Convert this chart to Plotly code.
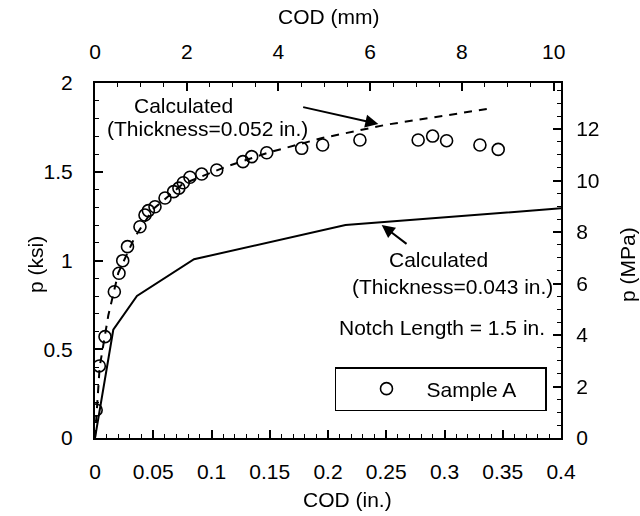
import plotly.graph_objects as go

# Sample A measurements: COD (in.) vs p (ksi)
sample_cod = [0.001, 0.0037, 0.0086, 0.0166, 0.0206, 0.0238, 0.0279, 0.0386, 0.0429,
              0.0458, 0.0515, 0.0601, 0.0675, 0.0720, 0.0758, 0.0815, 0.0916, 0.1045,
              0.127, 0.1345, 0.1474, 0.1774, 0.1954, 0.2274, 0.2774, 0.2898, 0.3018,
              0.3304, 0.3461]
sample_p = [0.158, 0.406, 0.571, 0.824, 0.928, 0.999, 1.078, 1.190, 1.256,
            1.281, 1.303, 1.352, 1.388, 1.408, 1.438, 1.469, 1.487, 1.510,
            1.557, 1.585, 1.607, 1.632, 1.651, 1.679, 1.679, 1.701, 1.675,
            1.651, 1.626]

# Calculated, thickness = 0.052 in. (dashed)
calc052_cod = [0.0, 0.004, 0.0114, 0.02, 0.034, 0.05, 0.075, 0.113, 0.15, 0.195, 0.25, 0.34]
calc052_p = [0.0, 0.40, 0.69, 0.93, 1.13, 1.29, 1.43, 1.53, 1.61, 1.69, 1.765, 1.857]

# Calculated, thickness = 0.043 in. (solid)
calc043_cod = [0.0, 0.0157, 0.036, 0.085, 0.215, 0.4]
calc043_p = [0.0, 0.61, 0.80, 1.007, 1.20, 1.294]

# Tick values
x_in_ticks = [0, 0.05, 0.1, 0.15, 0.2, 0.25, 0.3, 0.35, 0.4]
x_mm_ticks = [0, 2, 4, 6, 8, 10]
y_ksi_ticks = [0, 0.5, 1, 1.5, 2]
y_mpa_ticks = [0, 2, 4, 6, 8, 10, 12]

IN_TO_MM = 25.4
KSI_TO_MPA = 6.895
X_MAX_IN = 0.4
Y_MAX_KSI = 2.0

FONT = "Liberation Sans, Arial, sans-serif"
FS = 21

fig = go.Figure()

fig.add_trace(go.Scatter(x=calc052_cod, y=calc052_p, mode="lines",
                         line=dict(color="black", width=2, dash="8px,7px"),
                         showlegend=False, hoverinfo="skip"))
fig.add_trace(go.Scatter(x=calc043_cod, y=calc043_p, mode="lines",
                         line=dict(color="black", width=2),
                         showlegend=False, hoverinfo="skip"))
fig.add_trace(go.Scatter(x=sample_cod, y=sample_p, mode="markers",
                         name="Sample A\u00a0\u00a0\u00a0\u00a0",
                         marker=dict(symbol="circle-open", size=12, color="black",
                                     line=dict(width=1.6, color="black"))))
# secondary axes carrier (invisible)
fig.add_trace(go.Scatter(x=[0, X_MAX_IN * IN_TO_MM], y=[0, Y_MAX_KSI * KSI_TO_MPA],
                         xaxis="x2", yaxis="y2", mode="markers", opacity=0,
                         showlegend=False, hoverinfo="skip"))

def axis(**kw):
    d = dict(showgrid=False, zeroline=False, showline=True, linecolor="black",
             linewidth=2, ticks="inside", ticklen=8, tickwidth=1.6,
             tickcolor="black", layer="above traces",
             tickfont=dict(family=FONT, size=FS, color="black"))
    d.update(kw)
    return d

def minor(step):
    return dict(dtick=step, ticks="inside", ticklen=4, tickwidth=1.3, tickcolor="black")

fig.update_layout(
    width=640, height=516,
    margin=dict(l=95, r=79, t=83, b=78),
    paper_bgcolor="white", plot_bgcolor="white",
    font=dict(family=FONT, size=FS, color="black"),
    xaxis=axis(range=[0, X_MAX_IN], tickvals=x_in_ticks, minor=minor(0.01),
               ticklabelstandoff=14),
    xaxis2=axis(range=[0, X_MAX_IN * IN_TO_MM], tickvals=x_mm_ticks, overlaying="x",
                side="top", minor=minor(0.5), ticklabelstandoff=14),
    yaxis=axis(range=[0, Y_MAX_KSI], tickvals=y_ksi_ticks, minor=minor(0.1),
               ticklabelstandoff=16),
    yaxis2=axis(range=[0, Y_MAX_KSI * KSI_TO_MPA], tickvals=y_mpa_ticks, overlaying="y",
                side="right", minor=minor(0.5), ticklabelstandoff=9),
    legend=dict(x=0.515, y=0.2, xanchor="left", yanchor="top",
                bordercolor="black", borderwidth=1.5, bgcolor="white",
                font=dict(family=FONT, size=FS, color="black"),
                itemwidth=70, indentation=10),
)

def txt(text, x, y, xanchor="center", xref="x", yref="y", angle=0):
    fig.add_annotation(text=text, x=x, y=y, xref=xref, yref=yref, xanchor=xanchor,
                       yanchor="middle", showarrow=False, textangle=angle,
                       font=dict(family=FONT, size=FS, color="black"))

# axis titles
txt("COD (in.)", 0.541, -0.1746, xref="paper", yref="paper")
txt("COD (mm)", 0.5, 1.186, xref="paper", yref="paper")
txt("p (ksi)", -0.1288, 0.49, xref="paper", yref="paper", angle=-90)
txt("p (MPa)", 1.1416, 0.49, xref="paper", yref="paper", angle=-90)

# curve labels
txt("Calculated", 0.0318, 1.876, xanchor="left")
txt("(Thickness=0.052 in.)", 0.0086, 1.746, xanchor="left")
txt("Calculated", 0.2506, 1.003, xanchor="left")
txt("(Thickness=0.043 in.)", 0.3948, 0.851, xanchor="right")
txt("Notch Length = 1.5 in.", 0.388, 0.625, xanchor="right")

# arrows
fig.add_annotation(x=0.2432, y=1.769, ax=0.1774, ay=1.866, xref="x", yref="y",
                   axref="x", ayref="y", text="", showarrow=True, arrowhead=2,
                   arrowsize=1.3, arrowwidth=2, arrowcolor="black")
fig.add_annotation(x=0.2461, y=1.2, ax=0.2687, ay=1.087, xref="x", yref="y",
                   axref="x", ayref="y", text="", showarrow=True, arrowhead=2,
                   arrowsize=1.3, arrowwidth=2, arrowcolor="black")

fig.write_html("out.html")
